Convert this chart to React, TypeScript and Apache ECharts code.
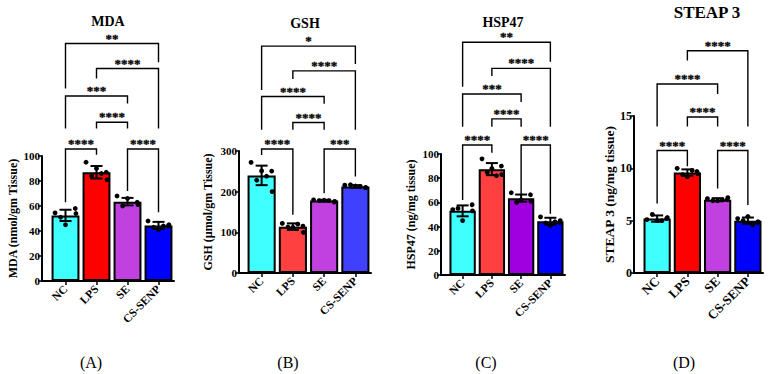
import React, { useEffect, useRef } from "react";
import * as echarts from "echarts";

const categories = ["NC", "LPS", "SE", "CS-SENP"];

// (A) MDA
const mdaMeans = [52.5, 87, 63.5, 44.5];
const mdaSD = [4.5, 5, 3, 2.8];
const mdaPoints = [
  [54.5, 58, 45, 54, 51],
  [95, 87, 90, 81, 84, 86],
  [68, 63, 66, 61, 60],
  [48, 44, 41, 45, 43, 44],
];
const mdaBrackets = [
  { from: 0, to: 1, level: 105.6, dropL: 63, dropR: 101, label: "****" },
  { from: 2, to: 3, level: 105.6, dropL: 72, dropR: 55, label: "****" },
  { from: 1, to: 2, level: 127, dropL: 122, dropR: 122, label: "****" },
  { from: 0, to: 2, level: 148, dropL: 122, dropR: 142, label: "***" },
  { from: 1, to: 3, level: 170, dropL: 162, dropR: 122, label: "****" },
  { from: 0, to: 3, level: 190, dropL: 154, dropR: 175, label: "**" },
];

// (B) GSH
const gshMeans = [240, 114, 178, 213];
const gshSD = [24, 8, 2, 3];
const gshPoints = [
  [272, 253, 251, 200, 228, 238],
  [122, 118, 112, 100, 113, 120],
  [180, 177, 179, 176, 178, 178],
  [216, 212, 214, 210, 217, 213],
];
const gshBrackets = [
  { from: 0, to: 1, level: 305, dropL: 290, dropR: 143, label: "****" },
  { from: 2, to: 3, level: 305, dropL: 196, dropR: 237, label: "***" },
  { from: 1, to: 2, level: 370, dropL: 352, dropR: 352, label: "****" },
  { from: 0, to: 2, level: 434, dropL: 352, dropR: 416, label: "****" },
  { from: 1, to: 3, level: 497, dropL: 477, dropR: 352, label: "****" },
  { from: 0, to: 3, level: 558, dropL: 450, dropR: 514, label: "*" },
];

// (C) HSP47
const hspMeans = [53, 87.5, 63.5, 44.5];
const hspSD = [4.5, 5, 3, 2.8];
const hspPoints = [
  [54, 59, 45, 53, 55],
  [96, 91, 88, 83, 85, 82],
  [68, 67, 62, 61, 60],
  [48, 44, 41, 45, 43, 44],
];
const hspBrackets = [
  { from: 0, to: 1, level: 107.4, dropL: 62, dropR: 101, label: "****" },
  { from: 2, to: 3, level: 107.4, dropL: 66, dropR: 50.7, label: "****" },
  { from: 1, to: 2, level: 129, dropL: 122.6, dropR: 122.6, label: "****" },
  { from: 0, to: 2, level: 149.6, dropL: 122.6, dropR: 143, label: "***" },
  { from: 1, to: 3, level: 170.8, dropL: 164.5, dropR: 122.6, label: "****" },
  { from: 0, to: 3, level: 192.3, dropL: 155.6, dropR: 176.3, label: "**" },
];

// (D) STEAP 3
const steapMeans = [5.2, 9.6, 7.0, 5.0];
const steapSD = [0.3, 0.3, 0.15, 0.3];
const steapPoints = [
  [5.1, 5.2, 5.0, 5.3, 5.6, 5.0],
  [10.0, 9.7, 9.2, 9.5, 9.4, 9.8],
  [7.1, 7.0, 6.9, 7.2, 6.9, 7.0],
  [5.2, 4.8, 5.4, 4.9, 5.0, 4.6],
];
const steapBrackets = [
  { from: 0, to: 1, level: 11.7, dropL: 6.63, dropR: 10.2, label: "****" },
  { from: 2, to: 3, level: 11.7, dropL: 8.07, dropR: 6.5, label: "****" },
  { from: 1, to: 2, level: 14.9, dropL: 14.0, dropR: 14.0, label: "****" },
  { from: 0, to: 2, level: 18.06, dropL: 14.0, dropR: 17.1, label: "****" },
  { from: 1, to: 3, level: 21.24, dropL: 20.3, dropR: 14.0, label: "****" },
];

const jitter = [-0.75, 0.7, 0, 0.75, -0.35, 0.35];
const FONT = '"Liberation Serif", "Times New Roman", serif';

type Panel = {
  title: string;
  yName: string;
  letter: string;
  means: number[];
  sd: number[];
  points: number[][];
  brackets: { from: number; to: number; level: number; dropL: number; dropR: number; label: string }[];
  colors: string[];
  max: number;
  interval: number;
  grid: { left: number; top: number; width: number; height: number };
  offset: number;
  nameGap: number;
  nameSize: number;
  tickSize: number;
  catSize: number;
  titleX: number;
  titleY: number;
  titleSize: number;
  letterX: number;
};

const panels: Panel[] = [
  {
    title: "MDA", yName: "MDA (nmol/gm Tissue)", letter: "(A)",
    means: mdaMeans, sd: mdaSD, points: mdaPoints, brackets: mdaBrackets,
    colors: ["#40FFFF", "#FF0000", "#C040E0", "#0000FF"],
    max: 100, interval: 20,
    grid: { left: 50, top: 156, width: 124, height: 125 }, offset: 8,
    nameGap: 23, nameSize: 12, tickSize: 11, catSize: 11.5,
    titleX: 108, titleY: 21, titleSize: 14, letterX: 91,
  },
  {
    title: "GSH", yName: "GSH (µmol/gm Tissue)", letter: "(B)",
    means: gshMeans, sd: gshSD, points: gshPoints, brackets: gshBrackets,
    colors: ["#40FFFF", "#FF4040", "#C040E0", "#4040FF"],
    max: 300, interval: 100,
    grid: { left: 246, top: 151, width: 125, height: 122 }, offset: 7,
    nameGap: 25, nameSize: 12, tickSize: 11, catSize: 11.5,
    titleX: 305, titleY: 23, titleSize: 14, letterX: 288,
  },
  {
    title: "HSP47", yName: "HSP47 (ng/mg tissue)", letter: "(C)",
    means: hspMeans, sd: hspSD, points: hspPoints, brackets: hspBrackets,
    colors: ["#40FFFF", "#FF4040", "#A000E0", "#0000FF"],
    max: 100, interval: 20,
    grid: { left: 448, top: 154, width: 117, height: 121 }, offset: 7,
    nameGap: 24, nameSize: 12, tickSize: 11, catSize: 11.5,
    titleX: 503, titleY: 22, titleSize: 14, letterX: 486,
  },
  {
    title: "STEAP 3", yName: "STEAP 3 (ng/mg tissue)", letter: "(D)",
    means: steapMeans, sd: steapSD, points: steapPoints, brackets: steapBrackets,
    colors: ["#40FFFF", "#FF0000", "#C040E0", "#0000FF"],
    max: 15, interval: 5,
    grid: { left: 642, top: 116, width: 121, height: 157 }, offset: 8,
    nameGap: 18, nameSize: 13.5, tickSize: 12, catSize: 13,
    titleX: 707, titleY: 12, titleSize: 17, letterX: 684,
  },
];

function buildOption() {
  const grid: any[] = [];
  const xAxis: any[] = [];
  const yAxis: any[] = [];
  const series: any[] = [];
  const graphic: any[] = [];

  panels.forEach((p, k) => {
    grid.push({ ...p.grid, outerBoundsMode: "none", containLabel: false });
    xAxis.push({
      type: "category", gridIndex: k, data: categories,
      axisLine: { show: true, lineStyle: { color: "#000", width: 2 } },
      axisTick: { show: true, alignWithLabel: true, length: 4, lineStyle: { color: "#000", width: 1.5 } },
      axisLabel: {
        rotate: 45, margin: 6, interval: 0, color: "#000",
        fontFamily: FONT, fontWeight: "bold", fontSize: p.catSize,
      },
      splitLine: { show: false },
    });
    yAxis.push({
      type: "value", gridIndex: k, min: 0, max: p.max, interval: p.interval,
      offset: p.offset,
      name: p.yName, nameLocation: "middle", nameGap: p.nameGap,
      nameTextStyle: { fontFamily: FONT, fontWeight: "bold", fontSize: p.nameSize, color: "#000" },
      axisLine: { show: true, lineStyle: { color: "#000", width: 2 } },
      axisTick: { show: true, length: 4, lineStyle: { color: "#000", width: 1.5 } },
      axisLabel: { margin: 2, color: "#000", fontFamily: FONT, fontWeight: "bold", fontSize: p.tickSize },
      splitLine: { show: false },
    });

    // Bars
    series.push({
      type: "bar", xAxisIndex: k, yAxisIndex: k,
      barCategoryGap: "10%",
      data: p.means.map((v, i) => ({
        value: v,
        itemStyle: { color: p.colors[i], borderColor: "#000", borderWidth: 2 },
      })),
      z: 2,
    });

    // Error bars + points
    series.push({
      type: "custom", xAxisIndex: k, yAxisIndex: k, clip: false, z: 5,
      data: p.means.map((v, i) => [i, v, p.sd[i]]),
      renderItem: (params: any, api: any) => {
        const i = api.value(0);
        const m = api.value(1);
        const s = api.value(2);
        const top = api.coord([i, m + s]);
        const bot = api.coord([i, m - s]);
        const band = api.size([1, 0])[0];
        const half = band * 0.45;
        const cap = 6;
        const children: any[] = [
          { type: "line", shape: { x1: top[0], y1: top[1], x2: bot[0], y2: bot[1] }, style: { stroke: "#000", lineWidth: 2 } },
          { type: "line", shape: { x1: top[0] - cap, y1: top[1], x2: top[0] + cap, y2: top[1] }, style: { stroke: "#000", lineWidth: 2 } },
          { type: "line", shape: { x1: bot[0] - cap, y1: bot[1], x2: bot[0] + cap, y2: bot[1] }, style: { stroke: "#000", lineWidth: 2 } },
        ];
        p.points[i].forEach((pv, j) => {
          const c = api.coord([i, pv]);
          children.push({
            type: "circle",
            shape: { cx: c[0] + jitter[j % jitter.length] * half, cy: c[1], r: 2.4 },
            style: { fill: "#000", stroke: "none" },
          });
        });
        return { type: "group", children };
      },
    });

    // Significance brackets
    series.push({
      type: "custom", xAxisIndex: k, yAxisIndex: k, clip: false, z: 6,
      data: p.brackets.map((b) => [b.from, b.level]),
      renderItem: (params: any, api: any) => {
        const b = p.brackets[params.dataIndex];
        const l = api.coord([b.from, b.level]);
        const r = api.coord([b.to, b.level]);
        const ld = api.coord([b.from, b.dropL]);
        const rd = api.coord([b.to, b.dropR]);
        return {
          type: "group",
          children: [
            {
              type: "polyline",
              shape: { points: [[l[0], ld[1]], [l[0], l[1]], [r[0], r[1]], [r[0], rd[1]]] },
              style: { stroke: "#000", lineWidth: 1.4, fill: null },
            },
            {
              type: "text",
              x: (l[0] + r[0]) / 2, y: l[1] + 1,
              style: {
                text: b.label, align: "center", verticalAlign: "bottom",
                fontFamily: FONT, fontWeight: "bold", fontSize: 13,
                fill: "#000", stroke: "#000", lineWidth: 0.3,
              },
            },
          ],
        };
      },
    });

    // x-axis line extension to the offset y-axis
    series.push({
      type: "custom", xAxisIndex: k, yAxisIndex: k, clip: false, z: 4,
      data: [[0, 0]],
      renderItem: (params: any, api: any) => {
        const c = api.coord([0, 0]);
        const band = api.size([1, 0])[0];
        const left = c[0] - band / 2;
        return {
          type: "line",
          shape: { x1: left - p.offset - 1, y1: c[1], x2: left + 1, y2: c[1] },
          style: { stroke: "#000", lineWidth: 2 },
        };
      },
    });

    graphic.push({
      type: "text", x: p.titleX, y: p.titleY,
      style: {
        text: p.title, align: "center", verticalAlign: "middle",
        fontFamily: FONT, fontWeight: "bold", fontSize: p.titleSize, fill: "#000",
      },
    });
    graphic.push({
      type: "text", x: p.letterX, y: 362,
      style: {
        text: p.letter, align: "center", verticalAlign: "middle",
        fontFamily: FONT, fontSize: 16, fill: "#000",
      },
    });
  });

  return {
    animation: false,
    backgroundColor: "#fff",
    grid, xAxis, yAxis, series, graphic,
  };
}

export default function App() {
  const ref = useRef<HTMLDivElement>(null);
  useEffect(() => {
    if (!ref.current) return;
    const chart = echarts.init(ref.current, undefined, { renderer: "svg" });
    chart.setOption(buildOption() as any);
    return () => chart.dispose();
  }, []);
  return (
    <div
      ref={ref}
      style={{ position: "fixed", left: 0, top: 0, width: 772, height: 374, background: "#fff" }}
    />
  );
}
